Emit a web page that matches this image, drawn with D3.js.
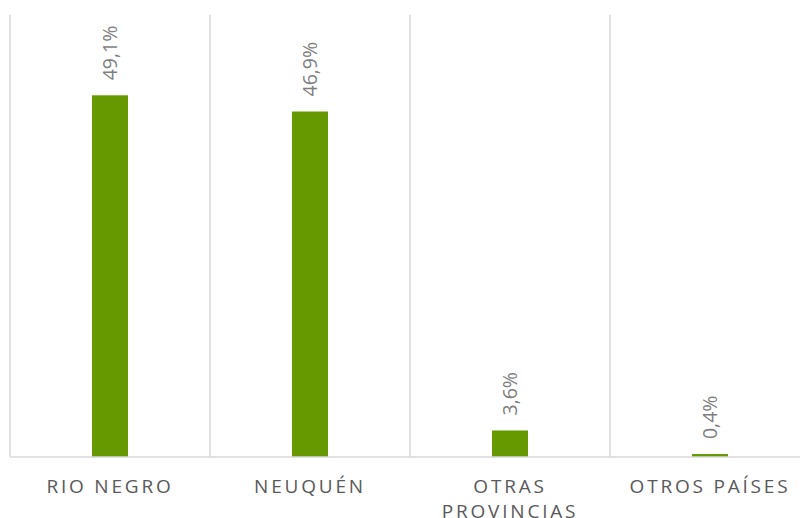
<!DOCTYPE html>
<html>
<head>
<meta charset="utf-8">
<script src="https://cdn.jsdelivr.net/npm/d3@7"></script>
<style>
  body { margin: 0; background: #fff; }
  text { font-family: "Open Sans", sans-serif; }
</style>
</head>
<body>
<script>
// data
var categories = ["RIO NEGRO", "NEUQUÉN", "OTRAS PROVINCIAS", "OTROS PAÍSES"];
var values = [49.1, 46.9, 3.6, 0.4];
var valueLabels = ["49,1%", "46,9%", "3,6%", "0,4%"];
var catLines = [["RIO NEGRO"], ["NEUQUÉN"], ["OTRAS", "PROVINCIAS"], ["OTROS PAÍSES"]];

var width = 800,
    height = 518,
    margin = {top: 15, right: -10, bottom: 61, left: 10};

var svg = d3.select("body").append("svg")
    .attr("width", width)
    .attr("height", height);

var xScale = d3.scaleBand()
    .domain(categories)
    .range([margin.left, width - margin.right])
    .paddingInner(0.82)
    .paddingOuter(0.41);

var yScale = d3.scaleLinear()
    .domain([0, 60])
    .range([height - margin.bottom, margin.top]);

var step = xScale.step();

// vertical category separators
var seps = d3.range(categories.length + 1).map(function(i) { return margin.left + i * step; });
svg.selectAll("line.sep")
    .data(seps)
    .enter()
    .append("line")
    .attr("class", "sep")
    .attr("x1", function(d) { return d; })
    .attr("x2", function(d) { return d; })
    .attr("y1", yScale(60))
    .attr("y2", yScale(0))
    .attr("stroke", "#d9d9d9")
    .attr("stroke-width", 1.5);

// bars
svg.selectAll("rect.bar")
    .data(categories)
    .enter()
    .append("rect")
    .attr("class", "bar")
    .attr("x", function(d) { return xScale(d); })
    .attr("width", xScale.bandwidth())
    .attr("y", function(d, i) { return yScale(values[i]); })
    .attr("height", function(d, i) { return yScale(0) - yScale(values[i]); })
    .attr("fill", "#669900");

// baseline
svg.append("line")
    .attr("x1", margin.left)
    .attr("x2", width)
    .attr("y1", yScale(0))
    .attr("y2", yScale(0))
    .attr("stroke", "#d9d9d9")
    .attr("stroke-width", 1.5);

// value labels, rotated
svg.selectAll("text.val")
    .data(categories)
    .enter()
    .append("text")
    .attr("class", "val")
    .attr("transform", function(d, i) {
        var x = xScale(d) + xScale.bandwidth() / 2 + 7;
        var y = yScale(values[i]) - 15;
        return "translate(" + x + "," + y + ") rotate(-90)";
    })
    .attr("text-anchor", "start")
    .attr("fill", "#7f7f7f")
    .style("font-size", "19.5px")
    .text(function(d, i) { return valueLabels[i]; });

// category labels
var cat = svg.selectAll("text.cat")
    .data(categories)
    .enter()
    .append("text")
    .attr("class", "cat")
    .attr("x", function(d) { return xScale(d) + xScale.bandwidth() / 2; })
    .attr("y", 493)
    .attr("text-anchor", "middle")
    .attr("fill", "#595959")
    .style("font-size", "19px")
    .style("letter-spacing", "2.8px");

cat.selectAll("tspan")
    .data(function(d, i) { return catLines[i]; })
    .enter()
    .append("tspan")
    .attr("x", function() { return d3.select(this.parentNode).attr("x"); })
    .attr("dy", function(d, j) { return j === 0 ? 0 : 25; })
    .text(function(d) { return d; });
</script>
</body>
</html>
